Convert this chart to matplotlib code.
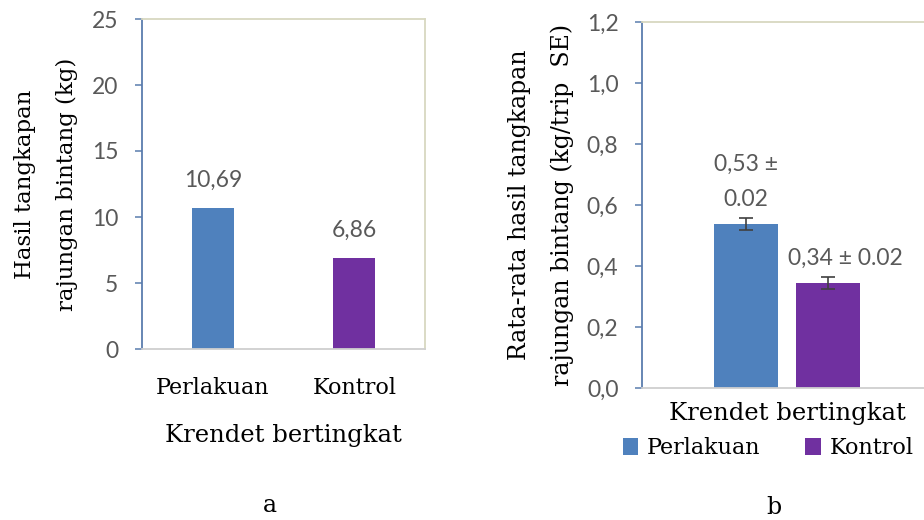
import numpy as np
import matplotlib
matplotlib.use("Agg")
import matplotlib.pyplot as plt
from matplotlib.patches import Patch

# Data
categories = ["Perlakuan", "Kontrol"]
total_catch = [10.69, 6.86]
total_labels = ["10,69", "6,86"]
mean_catch = [0.537, 0.344]
mean_se = [0.02, 0.02]
mean_labels = ["0,53 ±\n0.02", "0,34 ± 0.02"]
left_yticks = [0, 5, 10, 15, 20, 25]
right_yticks = [0.0, 0.2, 0.4, 0.6, 0.8, 1.0, 1.2]
right_yticklabels = ["0,0", "0,2", "0,4", "0,6", "0,8", "1,0", "1,2"]

BAR_COLORS = ["#4F81BD", "#7030A0"]
SERIF = "DejaVu Serif"
SANS = "Lato"
TICK_GREY = "#595959"
SPINE_BLUE = "#5A7DAE"
SPINE_KHAKI = "#D8D8C0"
SPINE_GREY = "#CFCFCF"

W, H = 924, 520
fig = plt.figure(figsize=(W / 100, H / 100), dpi=100)


def px_axes(left, top, right, bottom):
    return fig.add_axes([left / W, 1 - bottom / H, (right - left) / W, (bottom - top) / H])


def style_axes(ax):
    ax.spines["left"].set_color(SPINE_BLUE)
    ax.spines["left"].set_linewidth(1.3)
    ax.spines["top"].set_color(SPINE_KHAKI)
    ax.spines["right"].set_color(SPINE_KHAKI)
    ax.spines["bottom"].set_color(SPINE_GREY)
    for s in ["top", "right", "bottom"]:
        ax.spines[s].set_linewidth(1.3)
    ax.tick_params(axis="y", length=5, width=1.1, color=SPINE_BLUE, pad=12,
                   labelsize=16.5, labelcolor=TICK_GREY)
    for lbl in ax.get_yticklabels():
        lbl.set_family(SANS)


# ---- panel a ----
ax1 = px_axes(142, 19, 425, 349)
x1 = np.arange(len(categories))
ax1.bar(x1, total_catch, width=0.30, color=BAR_COLORS)
ax1.set_xlim(-0.5, 1.5)
ax1.set_ylim(0, 25)
ax1.set_yticks(left_yticks)
ax1.set_xticks(x1)
ax1.set_xticklabels(categories, family=SERIF, fontsize=16)
ax1.tick_params(axis="x", length=0, pad=20)
style_axes(ax1)
for xi, v, t in zip(x1, total_catch, total_labels):
    ax1.text(xi, v + 2.1, t, ha="center", va="center", family=SANS,
             fontsize=16.5, color=TICK_GREY)
ax1.set_xlabel("Krendet bertingkat", family=SERIF, fontsize=17.5, labelpad=18)
ax1.set_ylabel("Hasil tangkapan\nrajungan bintang (kg)", family=SERIF,
               fontsize=16.5, labelpad=10, linespacing=2.15)
fig.text(270 / W, 1 - 505 / H, "a", family=SERIF, fontsize=17,
         ha="center", va="center")

# ---- panel b ----
ax2 = px_axes(642, 22, 932, 388)
offsets = [-0.142, 0.142]
label_shift = [0.0, 0.06]
for off, v, e, c in zip(offsets, mean_catch, mean_se, BAR_COLORS):
    ax2.bar(off, v, width=0.22, color=c, yerr=e, capsize=5,
            error_kw=dict(ecolor="#404040", elinewidth=1.2, capthick=1.2))
for off, sh, v, e, t in zip(offsets, label_shift, mean_catch, mean_se, mean_labels):
    ax2.text(off + sh, v + e + 0.028, t, ha="center", va="bottom", family=SANS,
             fontsize=16.5, color=TICK_GREY, linespacing=1.8)
ax2.set_xlim(-0.5, 0.5)
ax2.set_ylim(0, 1.2)
ax2.set_yticks(right_yticks)
ax2.set_yticklabels(right_yticklabels)
ax2.set_xticks([])
style_axes(ax2)
ax2.set_xlabel("Krendet bertingkat", family=SERIF, fontsize=17.5, labelpad=10)
ax2.set_ylabel("Rata-rata hasil tangkapan\nrajungan bintang (kg/trip  SE)",
               family=SERIF, fontsize=17, labelpad=9, linespacing=2.05)

handles = [Patch(facecolor=c) for c in BAR_COLORS]
fig.legend(handles, categories, loc="center", bbox_to_anchor=(768 / W, 1 - 448 / H),
           ncol=2, frameon=False, prop=dict(family=SERIF, size=16),
           handlelength=0.7, handleheight=0.8, handletextpad=0.4, columnspacing=2.0)
fig.text(774 / W, 1 - 508 / H, "b", family=SERIF, fontsize=17,
         ha="center", va="center")

fig.savefig("out.png", dpi=100)
